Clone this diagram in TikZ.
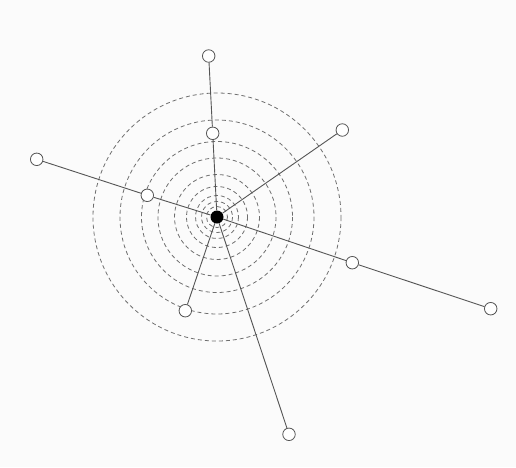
\documentclass[tikz,border=0pt]{standalone}
\usepackage{tikz}
\usetikzlibrary{
    arrows.meta,
    positioning
}
\definecolor{paper}{RGB}{251,251,251}
\definecolor{spoke}{RGB}{85,85,85}

\begin{document}
\begin{tikzpicture}[
    x=1pt, y=-1pt,
    hubnode/.style   = {circle, fill=black, minimum size=13pt, inner sep=0pt},
    leafnode/.style  = {circle, draw=spoke, fill=white, line width=0.8pt,
                        minimum size=12.5pt, inner sep=0pt},
    ring/.style      = {draw=spoke!85, line width=0.8pt,
                        dash pattern=on 4pt off 3pt},
    spokeline/.style = {draw=spoke, line width=0.9pt},
]
    %Canvas
    \fill[paper] (0,0) rectangle (516,467);
    \useasboundingbox (0,0) rectangle (516,467);

    %Rings
    \foreach \r in {10.5, 15.5, 21.5, 30.5, 42.5, 59, 75.5, 97, 124}
        \draw[ring] (217,217) circle[radius=\r];

    %Nodes
    \node[hubnode]   (hub)        at (217,217)   {};
    \node[leafnode]  (topinner)   at (212.7,133.3) {};
    \node[leafnode]  (topouter)   at (208.7,56)  {};
    \node[leafnode]  (leftinner)  at (147.3,195.3) {};
    \node[leafnode]  (leftouter)  at (36.7,159.3) {};
    \node[leafnode]  (upperright) at (342.3,130) {};
    \node[leafnode]  (rightinner) at (352.3,262.7) {};
    \node[leafnode]  (rightouter) at (490.7,308.7) {};
    \node[leafnode]  (lowerleft)  at (185.3,310.7) {};
    \node[leafnode]  (bottom)     at (289,434.3) {};

    %Lines
    \draw[spokeline] (hub) -- (topinner) -- (topouter);
    \draw[spokeline] (hub) -- (leftinner) -- (leftouter);
    \draw[spokeline] (hub) -- (upperright);
    \draw[spokeline] (hub) -- (rightinner) -- (rightouter);
    \draw[spokeline] (hub) -- (lowerleft);
    \draw[spokeline] (hub) -- (bottom);
\end{tikzpicture}
\end{document}
